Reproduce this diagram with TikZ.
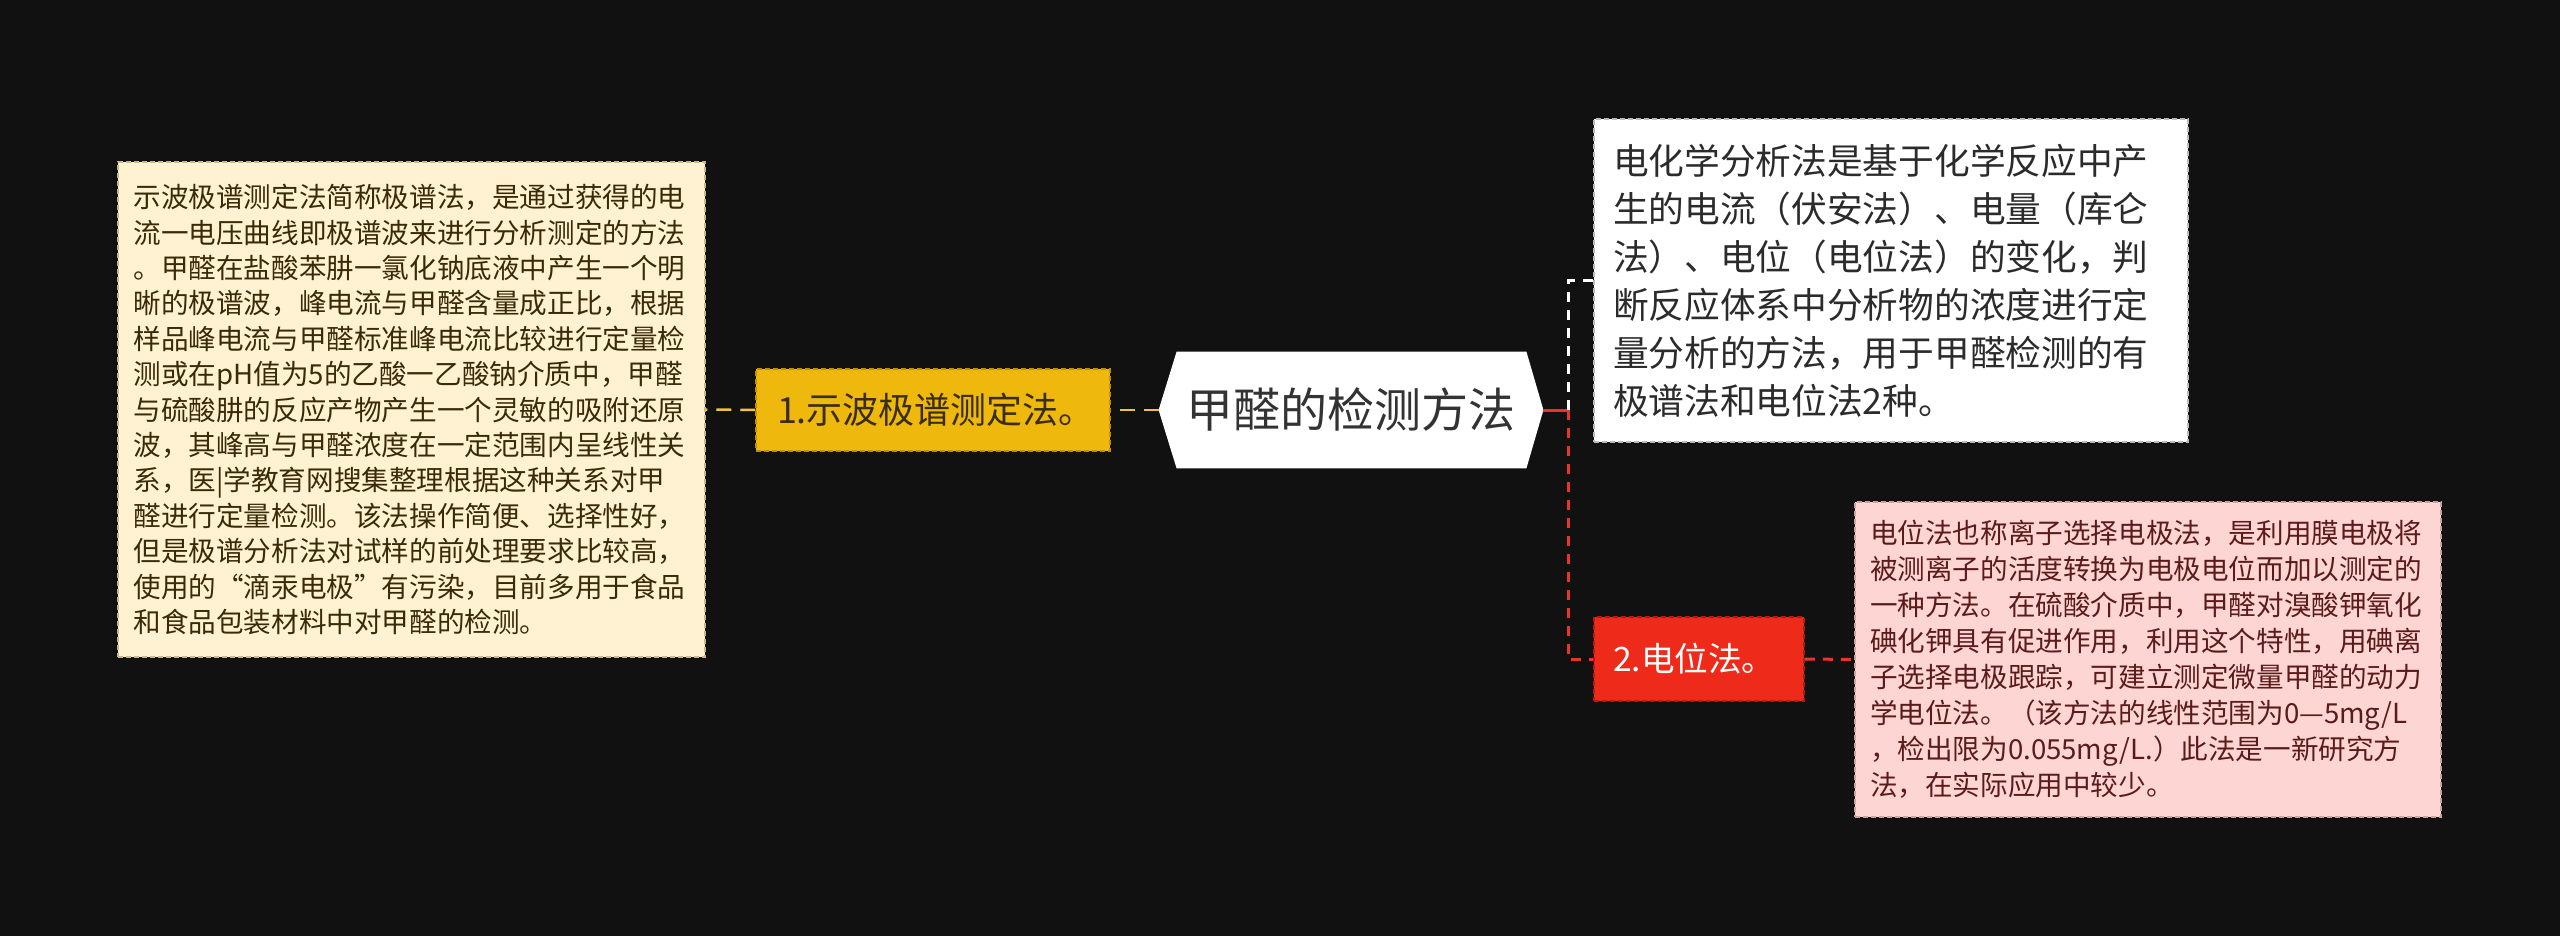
\documentclass[tikz,border=0pt]{standalone}
\usepackage{fontspec}
\setmainfont{Noto Sans CJK SC}
\usetikzlibrary{backgrounds}
\definecolor{bg}{HTML}{111111}
\definecolor{cream}{HTML}{FEF2D2}
\definecolor{creamborder}{HTML}{C9B78A}
\definecolor{creamtext}{HTML}{3A2B08}
\definecolor{gold}{HTML}{EFB80C}
\definecolor{goldborder}{HTML}{C08F05}
\definecolor{goldtext}{HTML}{3A2E12}
\definecolor{goldline}{HTML}{F2C43A}
\definecolor{ctext}{HTML}{333333}
\definecolor{wborder}{HTML}{BBBBBB}
\definecolor{wtext}{HTML}{2B2B2B}
\definecolor{pink}{HTML}{FDD6D4}
\definecolor{pinkborder}{HTML}{C9A3A0}
\definecolor{pinktext}{HTML}{5C1B1B}
\definecolor{redbox}{HTML}{EE2A1B}
\definecolor{redborder}{HTML}{B51A0E}
\definecolor{redline}{HTML}{E8352A}
\begin{document}
\begin{tikzpicture}[x=0.5pt,y=-0.5pt,
  box/.style={draw, line width=0.75pt, dash pattern=on 2.5pt off 1.5pt, align=left, inner ysep=0pt},
  ylink/.style={draw=goldline, line width=1.25pt, dash pattern=on 7.5pt off 4.5pt},
  rline/.style={draw=redline, line width=1.5pt},
  wdash/.style={draw=white, line width=1.5pt, dash pattern=on 5pt off 4pt},
  rdash/.style={draw=redline, line width=1.5pt, dash pattern=on 5pt off 4pt}]
\useasboundingbox (0,0) rectangle (2560,936);

% central topic
\node[font=\fontsize{23.5pt}{28pt}\selectfont, text=ctext, minimum width=192pt, minimum height=58pt, inner sep=0pt] (c) at (1351,410) {甲醛的检测方法};

% left branch
\node[box, fill=gold, draw=goldborder, text=goldtext, minimum width=177pt, minimum height=41pt, text width=156pt, inner xsep=10.5pt, font=\fontsize{18pt}{22pt}\selectfont] (k1) at (933,410) {1.示波极谱测定法。};

\node[box, fill=cream, draw=creamborder, text=creamtext, minimum width=293.5pt, minimum height=247.5pt, text width=278pt, inner xsep=7.75pt, font=\fontsize{13.8pt}{17.7pt}\selectfont] (d1) at (411.5,409.5) {示波极谱测定法简称极谱法，是通过获得的电\\流一电压曲线即极谱波来进行分析测定的方法\\。甲醛在盐酸苯肼一氯化钠底液中产生一个明\\晰的极谱波，峰电流与甲醛含量成正比，根据\\样品峰电流与甲醛标准峰电流比较进行定量检\\测或在pH值为5的乙酸一乙酸钠介质中，甲醛\\与硫酸肼的反应产物产生一个灵敏的吸附还原\\波，其峰高与甲醛浓度在一定范围内呈线性关\\系，医|学教育网搜集整理根据这种关系对甲\\醛进行定量检测。该法操作简便、选择性好，\\但是极谱分析法对试样的前处理要求比较高，\\使用的“滴汞电极”有污染，目前多用于食品\\和食品包装材料中对甲醛的检测。};

% right branch
\node[box, fill=white, draw=wborder, text=wtext, minimum width=297pt, minimum height=161.5pt, text width=278pt, inner xsep=9.5pt, font=\fontsize{17.85pt}{24pt}\selectfont] (d2) at (1891,280.5) {电化学分析法是基于化学反应中产\\生的电流（伏安法）、电量（库仑\\法）、电位（电位法）的变化，判\\断反应体系中分析物的浓度进行定\\量分析的方法，用于甲醛检测的有\\极谱法和电位法2种。};

\node[box, fill=redbox, draw=redborder, text=white, minimum width=105pt, minimum height=42pt, text width=86pt, inner xsep=9.5pt, font=\fontsize{16.8pt}{20pt}\selectfont] (k2) at (1699,659) {2.电位法。};

\node[box, fill=pink, draw=pinkborder, text=pinktext, minimum width=293pt, minimum height=157.5pt, text width=278pt, inner xsep=7.5pt, font=\fontsize{13.8pt}{18pt}\selectfont] (d3) at (2148,659.5) {电位法也称离子选择电极法，是利用膜电极将\\被测离子的活度转换为电极电位而加以测定的\\一种方法。在硫酸介质中，甲醛对溴酸钾氧化\\碘化钾具有促进作用，利用这个特性，用碘离\\子选择电极跟踪，可建立测定微量甲醛的动力\\学电位法。（该方法的线性范围为0—5mg/L\\，检出限为0.055mg/L.）此法是一新研究方\\法，在实际应用中较少。};

% connectors
\draw[ylink] (c.west) -- (k1.east);
\draw[ylink] (k1.west) -- (d1.east);
\coordinate (j) at ([xshift=12.5pt]c.east);
\draw[rline] (c.east) -- (j);
\draw[wdash] (j) |- (d2.west);
\draw[rdash] (j) |- (k2.west);
\draw[rdash] (k2.east) -- (d3.west);

\begin{pgfonlayer}{background}
\fill[bg] (0,0) rectangle (2560,936);
\fill[white] (c.west) -- ([xshift=9pt]c.north west) -- ([xshift=-8.5pt]c.north east) -- (c.east) -- ([xshift=-8.5pt]c.south east) -- ([xshift=9pt]c.south west) -- cycle;
\end{pgfonlayer}
\end{tikzpicture}
\end{document}
